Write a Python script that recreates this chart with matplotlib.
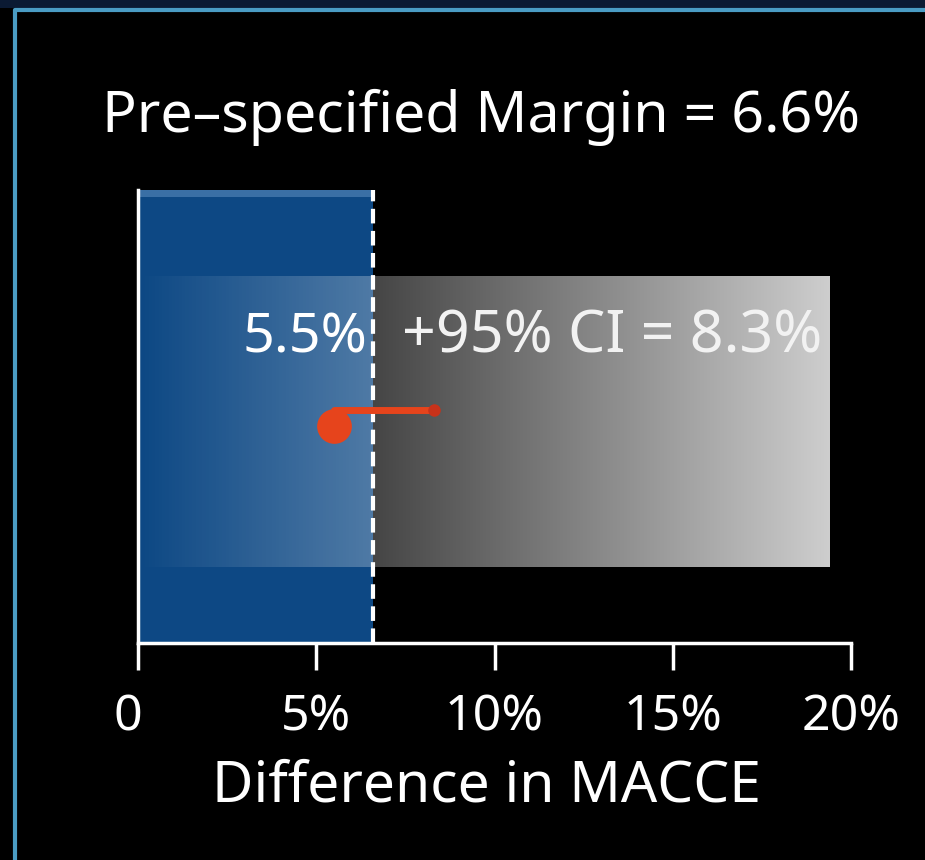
import numpy as np
import matplotlib
matplotlib.use("Agg")
import matplotlib.pyplot as plt
from matplotlib.patches import Rectangle
from matplotlib.lines import Line2D
from matplotlib.transforms import ScaledTranslation

# Values
margin = 6.6          # pre-specified non-inferiority margin (%)
point_est = 5.5       # observed difference in MACCE (%)
upper_ci = 8.3        # upper bound of one-sided 95% CI (%)
band_end = 19.4       # right end of the shaded region (%)
tick_values = [0, 5, 10, 15, 20]
tick_labels = ["0", "5%", "10%", "15%", "20%"]
title_text = "Pre\u2013specified Margin = 6.6%"
xlabel_text = "Difference in MACCE"

FONT = ["Noto Sans", "DejaVu Sans"]
W, H = 925, 860
fig = plt.figure(figsize=(W / 100, H / 100), dpi=100, facecolor="black")

# Slide frame: dark strip at top and a thin light-blue border
fig.patches.append(Rectangle((0, 1 - 8 / H), 1, 8 / H, transform=fig.transFigure,
                             facecolor="#0b1a33", edgecolor="none", zorder=0))
fig.lines.append(Line2D([15 / W, 15 / W, 1], [0, 1 - 10 / H, 1 - 10 / H],
                        transform=fig.transFigure, color="#4a9cc4", lw=3, zorder=1))

ax_left, ax_right = 138 / W, 851 / W
ax_bottom, ax_top = 1 - 643 / H, 1 - 190 / H
ax = fig.add_axes([ax_left, ax_bottom, ax_right - ax_left, ax_top - ax_bottom])
ax.set_facecolor("black")
ax.set_xlim(0, 20)
ax.set_ylim(0, 1)

# Blue margin region
ax.add_patch(Rectangle((0, 0), margin, 1, facecolor="#0d4884", edgecolor="none", zorder=1))
ax.add_patch(Rectangle((0, 0.985), margin, 0.015, facecolor="#3a6fa5", edgecolor="none", zorder=1.1))

# Grey gradient band (white with increasing opacity)
band_lo, band_hi = 0.168, 0.81
n = 512
grad = np.zeros((1, n, 4))
grad[..., :3] = 1.0
grad[..., 3] = np.linspace(0.0, 0.81, n)
ax.imshow(grad, extent=[0, band_end, band_lo, band_hi], aspect="auto",
          interpolation="bilinear", zorder=2)

# Margin line
ax.axvline(margin, color="white", lw=3, ls=(0, (3.5, 1.8)), zorder=3)

# Point estimate with upper confidence bound
red = "#e6441c"
ax.plot([point_est, upper_ci], [0.515, 0.515], color=red, lw=5,
        solid_capstyle="round", zorder=4)
ax.plot([upper_ci], [0.515], marker="o", ms=9, color="#c8321a", mec="none", zorder=4.5)
ax.plot([point_est], [0.48], marker="o", ms=25, color=red, mec="none", zorder=5)

# Annotations
ax.annotate("5.5%", xy=(margin, 0.642), xytext=(-4, 0), textcoords="offset points",
            ha="right", va="baseline", color="white", fontsize=40, family=FONT, zorder=6)
ax.annotate("+95% CI = 8.3%", xy=(margin, 0.642), xytext=(21, 0), textcoords="offset points",
            ha="left", va="baseline", color="#f2f2f2", fontsize=42.5, family=FONT, zorder=6)

# Axes styling
for s in ["top", "right"]:
    ax.spines[s].set_visible(False)
for s in ["left", "bottom"]:
    ax.spines[s].set_color("white")
    ax.spines[s].set_linewidth(2.5)
    ax.spines[s].set_zorder(7)
ax.set_yticks([])
ax.set_xticks(tick_values)
ax.set_xticklabels(tick_labels, family=FONT, fontsize=36, color="white")
ax.tick_params(axis="x", colors="white", length=19.5, width=2.5, pad=16, labelcolor="white")
zero_lbl = ax.get_xticklabels()[0]
zero_lbl.set_transform(zero_lbl.get_transform() + ScaledTranslation(-0.1, 0, fig.dpi_scale_trans))

ax.set_xlabel(xlabel_text, family=FONT, fontsize=41, color="white", va="top")
ax.xaxis.set_label_coords(0.489, -0.256)

fig.text(0.52, 1 - 132 / H, title_text, ha="center", va="baseline",
         color="white", fontsize=41.3, family=FONT)

fig.savefig("out.png", dpi=100, facecolor="black")
